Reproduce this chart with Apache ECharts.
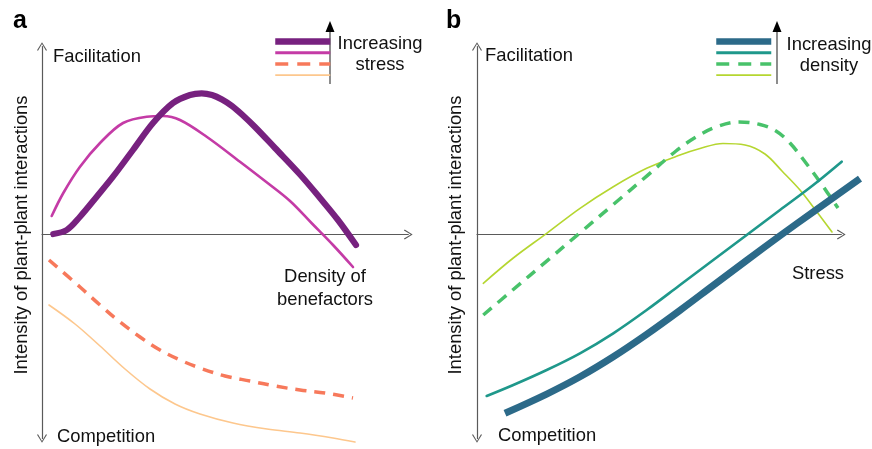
<!DOCTYPE html>
<html>
<head>
<meta charset="utf-8">
<script src="https://cdn.jsdelivr.net/npm/echarts@6/dist/echarts.min.js"></script>
<style>
  html, body { margin: 0; padding: 0; background: #fff; }
  #chart { width: 872px; height: 449px; }
</style>
</head>
<body>
<div id="chart"></div>
<script>
// ---- Panel a: interaction intensity vs density of benefactors ----
const aStressHighest = [[3.05,0.25],[6.68,2.25],[10.27,8.9],[14.78,18.9],[19.19,28.9],[24.59,42.25],[30,55.75],[35.4,65.75],[40,69.75],[43.16,70.6],[45.95,69.75],[48.65,67.5],[51.35,64.25],[54.05,60],[57.57,53.75],[62.97,43.25],[69.73,30],[75.14,18.25],[80,7.25],[84.86,-5.25]];
const aStressHigh = [[2.62,9.25],[5.76,20.75],[10.27,33.9],[15.68,45.75],[21.9,55.75],[28.3,58.9],[32.7,59.25],[37.3,57.25],[44.5,48.9],[53.5,36.4],[60.8,26],[67.03,16.75],[72.97,5.5],[78.65,-5.25],[84.05,-16.25]];
const aStressLow = [[1.89,-12.75],[10.27,-26.25],[15.68,-35.25],[21.08,-43.75],[26.49,-51.25],[31.89,-57.75],[37.3,-62.75],[42.7,-66.75],[49.46,-70.75],[56.22,-73.25],[62.97,-75.75],[69.73,-77.75],[76.49,-79.25],[84.05,-81.75]];
const aStressLowest = [[1.89,-35.25],[8.92,-44.75],[15.68,-55.75],[22.43,-67.25],[29.19,-77.25],[35.95,-84.75],[42.7,-89.75],[51.62,-94.25],[60.81,-97.25],[69.73,-99.25],[78.65,-101.75],[84.59,-103.75]];

// ---- Panel b: interaction intensity vs stress ----
const bDensityHighest = [[7.61,-89.4],[18.94,-79.8],[27.99,-71.15],[37.04,-61.15],[46.11,-49.95],[55.16,-37.95],[64.21,-25.45],[73.29,-12.95],[82.34,-0.65],[91.39,11.35],[104.08,27.95]];
const bDensityHigh = [[2.64,-80.75],[9.86,-75.25],[18.94,-67.75],[27.99,-59.4],[37.04,-49.4],[46.11,-37.75],[55.16,-25.25],[64.21,-12.75],[73.29,-0.25],[82.34,12.25],[91.39,24.75],[99.1,36.4]];
const bDensityLow = [[1.71,-40.25],[9.86,-27.5],[18.94,-13.3],[27.99,0.85],[37.04,15],[46.11,29.2],[54.08,41.75],[59.51,48.75],[64.95,53.75],[71.2,56.25],[76.9,55],[81.25,51.75],[85.05,45.75],[89.4,35.75],[93.21,26.25],[98.1,13.25]];
const bDensityLowest = [[1.71,-24.4],[9.86,-11.75],[18.94,0.6],[27.99,13.1],[37.04,23.9],[46.11,33.1],[55.16,39.75],[60.6,43],[66.85,45.5],[72.83,44.75],[78.26,40.25],[82.88,31.75],[87.77,22.25],[92.39,11.25],[96.47,1.25]];

const aNames = ['Highest stress', 'High stress', 'Low stress', 'Lowest stress'];
const bNames = ['Highest density', 'High density', 'Low density', 'Lowest density'];
const axisTitles = ['Intensity of plant-plant interactions', 'Facilitation', 'Competition', 'Density of\nbenefactors', 'Stress', 'Increasing\nstress', 'Increasing\ndensity'];

const FONT = '"Liberation Sans", Arial, Helvetica, sans-serif';
const AXIS_COLOR = '#5a5a5a';
const CHEVRON = 'path://M0,8L5,0L10,8L9,8.7L5,1.9L1,8.7Z';
const Y_MIN = -102, Y_MAX = 94;

function hiddenAxis(grid, min, max) {
  return { type: 'value', gridIndex: grid, min, max, show: false,
    axisLine: { show: false }, axisTick: { show: false }, axisLabel: { show: false }, splitLine: { show: false } };
}
function xAxisFor(grid) {
  return {
    type: 'value', gridIndex: grid, min: 0, max: 99,
    axisLine: { show: true, onZero: true, symbol: ['none', CHEVRON], symbolSize: [10, 9],
      lineStyle: { color: AXIS_COLOR, width: 1.2 } },
    axisTick: { show: false }, axisLabel: { show: false }, splitLine: { show: false }
  };
}
function yAxisFor(grid) {
  return {
    type: 'value', gridIndex: grid, min: Y_MIN, max: Y_MAX,
    axisLine: { show: true, onZero: true, symbol: [CHEVRON, CHEVRON], symbolSize: [10, 9],
      lineStyle: { color: AXIS_COLOR, width: 1.2 } },
    axisTick: { show: false }, axisLabel: { show: false }, splitLine: { show: false }
  };
}
function lineSeries(name, grid, data, color, width, type, cap) {
  return {
    name, type: 'line', xAxisIndex: grid, yAxisIndex: grid, data,
    smooth: 0.35, symbol: 'none', showSymbol: false, clip: false, silent: true,
    lineStyle: { color, width, type: type || 'solid', cap: cap || 'round', join: 'round' },
    itemStyle: { color }
  };
}
function txt(text, x, y, align, extra) {
  return {
    type: 'text', x, y, silent: true,
    style: Object.assign({ text, fill: '#111', font: '18.4px ' + FONT,
      align: align, textAlign: align, verticalAlign: 'middle', textVerticalAlign: 'middle', lineHeight: 22 }, extra || {})
  };
}
function upArrow(x) {
  return [
    { type: 'line', silent: true, shape: { x1: x, y1: 84, x2: x, y2: 29 }, style: { stroke: '#707070', lineWidth: 1.6 } },
    { type: 'polygon', silent: true, shape: { points: [[x - 4.5, 32], [x, 21], [x + 4.5, 32]] }, style: { fill: '#000' } }
  ];
}

const chart = echarts.init(document.getElementById('chart'), null, { renderer: 'canvas' });
const legendBase = { orient: 'vertical', itemWidth: 55, itemHeight: 8, itemGap: 4, padding: 0,
  selectedMode: false, formatter: () => '', textStyle: { fontSize: 1 },
  itemStyle: { color: 'rgba(0,0,0,0)', borderWidth: 0, opacity: 0 } };

// grid 2 shares panel b's scale (3.68 px per unit) but is wider, so the thick line may run past the arrow
const B_UNIT = 364.3 / 99;
chart.setOption({
  animation: false,
  backgroundColor: '#fff',
  grid: [
    { left: 42, top: 46.5, width: 366.3, height: 392 },
    { left: 477, top: 46.5, width: 364.3, height: 392 },
    { left: 477, top: 46.5, width: B_UNIT * 106, height: 392 }
  ],
  xAxis: [xAxisFor(0), xAxisFor(1), hiddenAxis(2, 0, 106)],
  yAxis: [yAxisFor(0), yAxisFor(1), hiddenAxis(2, Y_MIN, Y_MAX)],
  legend: [
    Object.assign({}, legendBase, { left: 272, top: 37.5, data: [
      { name: aNames[0], lineStyle: { width: 6.5, cap: 'butt' } },
      { name: aNames[1], lineStyle: { width: 3, cap: 'butt' } },
      { name: aNames[2], lineStyle: { width: 3.5, cap: 'butt', type: [13, 9] } },
      { name: aNames[3], lineStyle: { width: 1.8, cap: 'butt' } }
    ] }),
    Object.assign({}, legendBase, { left: 713, top: 37.5, data: [
      { name: bNames[0], lineStyle: { width: 6.5, cap: 'butt' } },
      { name: bNames[1], lineStyle: { width: 3, cap: 'butt' } },
      { name: bNames[2], lineStyle: { width: 3.5, cap: 'butt', type: [13, 9] } },
      { name: bNames[3], lineStyle: { width: 1.8, cap: 'butt' } }
    ] })
  ],
  series: [
    lineSeries(aNames[3], 0, aStressLowest, '#fdc78d', 1.6),
    lineSeries(aNames[2], 0, aStressLow, '#f7795b', 3.5, [11, 8], 'butt'),
    lineSeries(aNames[1], 0, aStressHigh, '#c43ba6', 2.6),
    lineSeries(aNames[0], 0, aStressHighest, '#77217f', 6.2),
    lineSeries(bNames[3], 1, bDensityLowest, '#b5d630', 1.6),
    lineSeries(bNames[2], 1, bDensityLow, '#48c26a', 3.5, [11, 8], 'butt'),
    lineSeries(bNames[1], 1, bDensityHigh, '#1f988b', 2.6),
    lineSeries(bNames[0], 2, bDensityHighest, '#2c6a89', 7, 'solid', 'butt')
  ],
  graphic: [
    txt('a', 13, 21, 'left', { font: 'bold 25px ' + FONT, fill: '#000' }),
    txt('b', 446, 21, 'left', { font: 'bold 25px ' + FONT, fill: '#000' }),
    txt(axisTitles[1], 53, 57, 'left'),
    txt(axisTitles[2], 57, 437, 'left'),
    txt(axisTitles[5], 380, 54.5, 'center', { lineHeight: 20.5 }),
    txt(axisTitles[3], 325, 288.5, 'center', { lineHeight: 23 }),
    Object.assign(txt(axisTitles[0], 22, 235, 'center'), { rotation: Math.PI / 2 }),
    txt(axisTitles[1], 485, 56, 'left'),
    txt(axisTitles[2], 498, 436, 'left'),
    txt(axisTitles[6], 829, 55, 'center', { lineHeight: 21 }),
    txt(axisTitles[4], 818, 274, 'center'),
    Object.assign(txt(axisTitles[0], 456, 235, 'center'), { rotation: Math.PI / 2 })
  ].concat(upArrow(330), upArrow(777))
});
</script>
</body>
</html>
